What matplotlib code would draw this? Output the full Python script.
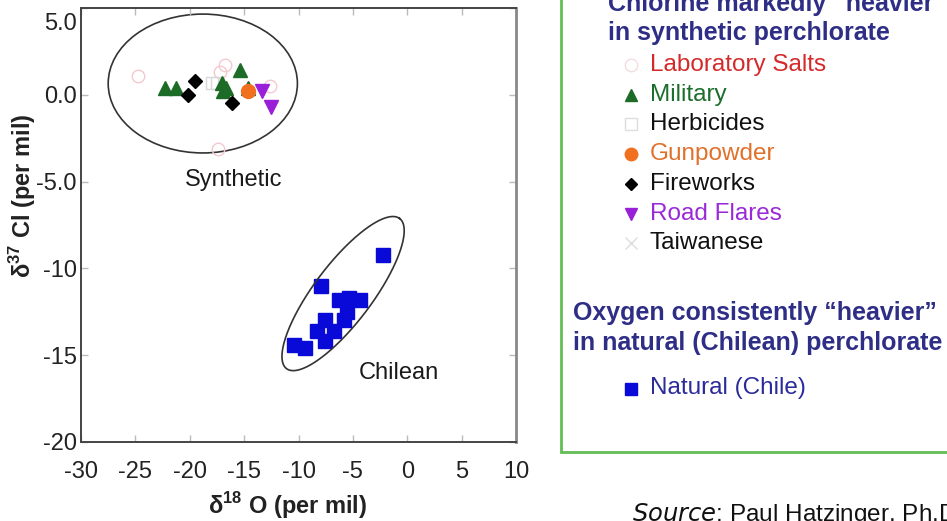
import numpy as np
import matplotlib
matplotlib.use("Agg")
import matplotlib.pyplot as plt
from matplotlib.patches import Ellipse, Rectangle
from matplotlib.transforms import ScaledTranslation

plt.rcParams["font.family"] = ["Liberation Sans", "DejaVu Sans"]
plt.rcParams["mathtext.fontset"] = "custom"
plt.rcParams["mathtext.rm"] = "Liberation Sans"
plt.rcParams["mathtext.bf"] = "Liberation Sans:bold"

# isotope data: delta-18O (x) and delta-37Cl (y), per mil
lab_salts_x = [-24.8, -16.8, -17.2, -12.6, -17.4]
lab_salts_y = [1.1, 1.7, 1.3, 0.5, -3.1]
military_x = [-22.3, -21.3, -17.0, -16.7, -16.9, -15.4, -14.6]
military_y = [0.4, 0.4, 0.7, 0.4, 0.2, 1.4, 0.4]
herbicides_x = [-18.0, -17.5]
herbicides_y = [0.7, 0.7]
gunpowder_x = [-14.6]
gunpowder_y = [0.2]
fireworks_x = [-19.5, -20.2, -16.1]
fireworks_y = [0.8, 0.0, -0.5]
road_flares_x = [-13.4, -12.5]
road_flares_y = [0.2, -0.7]
taiwanese_x = []
taiwanese_y = []
chile_x = [-2.2, -7.9, -6.3, -5.4, -4.3, -5.5, -5.8, -7.6, -8.3, -6.7, -7.6, -10.4, -9.4]
chile_y = [-9.2, -11.0, -11.8, -11.7, -11.8, -12.5, -13.0, -13.0, -13.6, -13.6, -14.2, -14.4, -14.6]

x_ticks = [-30, -25, -20, -15, -10, -5, 0, 5, 10]
x_tick_labels = ["-30", "-25", "-20", "-15", "-10", "-5", "0", "5", "10"]
y_ticks = [-20, -15, -10, -5, 0, 5]
y_tick_labels = ["-20", "-15", "-10", "-5.0", "0.0", "5.0"]

W, H = 947, 521
fig = plt.figure(figsize=(W / 100, H / 100), dpi=100)
ax = fig.add_axes([81 / W, 1 - 442 / H, 435 / W, 434 / H])
ax.set_xlim(-30, 10)
ax.set_ylim(-20, 5)

# series styles
series = [
    (lab_salts_x, lab_salts_y, dict(marker="o", ms=9, mfc="none", mec="#f4c8cf", mew=1.0)),
    (herbicides_x, herbicides_y, dict(marker="s", ms=9, mfc="none", mec="#d9d9d9", mew=1.0)),
    (taiwanese_x, taiwanese_y, dict(marker="x", ms=9, mec="#d9d9d9", mew=1.0)),
    (military_x, military_y, dict(marker="^", ms=10, mfc="#1c6b26", mec="#1c6b26")),
    (fireworks_x, fireworks_y, dict(marker="D", ms=7, mfc="black", mec="black")),
    (gunpowder_x, gunpowder_y, dict(marker="o", ms=10, mfc="#f07020", mec="#f07020")),
    (road_flares_x, road_flares_y, dict(marker="v", ms=10, mfc="#9a1fd8", mec="#9a1fd8")),
    (chile_x, chile_y, dict(marker="s", ms=10, mfc="#0a0ad8", mec="#0a0ad8")),
]
for xs, ys, st in series:
    ax.plot(xs, ys, ls="none", **st)

# grouping ellipses
ax.add_patch(Ellipse((-18.8, 0.65), 17.4, 8.0, fill=False, ec="#333333", lw=1.2))

# tilted ellipse defined in screen space so its shape is independent of the data aspect
fig.canvas.draw()
cx, cy = ax.transData.transform((-5.9, -11.45))
t = np.linspace(0, 2 * np.pi, 300)
a, b, th = 94, 29, np.deg2rad(53)
px = cx + a * np.cos(t) * np.cos(th) - b * np.sin(t) * np.sin(th)
py = cy + a * np.cos(t) * np.sin(th) + b * np.sin(t) * np.cos(th)
ex, ey = ax.transData.inverted().transform(np.column_stack([px, py])).T
ax.plot(ex, ey, color="#333333", lw=1.2)

ax.text(-16.0, -4.9, "Synthetic", fontsize=17, ha="center", va="center", color="#1a1a1a")
ax.text(-0.8, -16.0, "Chilean", fontsize=17, ha="center", va="center", color="#1a1a1a")

ax.set_xticks(x_ticks)
ax.set_xticklabels(x_tick_labels)
ax.set_yticks(y_ticks)
ax.set_yticklabels(y_tick_labels)
ax.tick_params(direction="in", length=5, width=1, color="#bbbbbb",
               labelsize=17, labelcolor="#222222", top=True, right=True)
ax.tick_params(axis="x", pad=14)
ax.tick_params(axis="y", pad=3)
for s in ax.spines.values():
    s.set_color("#444444")
    s.set_linewidth(1.4)
ax.spines["right"].set_color("#888888")
ax.spines["right"].set_linewidth(2)

# top label sits a little below its tick
for lbl in ax.get_yticklabels():
    if lbl.get_text() == "5.0":
        lbl.set_transform(lbl.get_transform() + ScaledTranslation(0, -10 / 72, fig.dpi_scale_trans))

ax.set_xlabel(r"δ$^{\mathbf{18}}$ O (per mil)", fontsize=17, fontweight="bold", color="#222222")
ax.xaxis.set_label_coords(0.474, -0.11)
ax.set_ylabel(r"δ$^{\mathbf{37}}$ Cl (per mil)", fontsize=17, fontweight="bold", color="#222222")
ax.yaxis.set_label_coords(-0.098, 0.567)

# key panel on the right, laid out in pixel coordinates
ov = fig.add_axes([0, 0, 1, 1], facecolor="none")
ov.set_xlim(0, W)
ov.set_ylim(H, 0)
ov.axis("off")
ov.add_patch(Rectangle((561, -20), 420, 472, fill=False, ec="#62bd55", lw=2, clip_on=False))

navy = "#2e2e86"
ov.text(608, 4, "Chlorine markedly \u201cheavier\u201d", fontsize=18, fontweight="bold", color=navy, va="center")
ov.text(608, 33, "in synthetic perchlorate", fontsize=18, fontweight="bold", color=navy, va="center")

entries = [
    ("Laboratory Salts", "#d42a2a", dict(marker="o", ms=9, mfc="none", mec="#f4dde1", mew=1.0)),
    ("Military", "#1c6e2c", dict(marker="^", ms=9, mfc="#1c6b26", mec="#1c6b26")),
    ("Herbicides", "#111111", dict(marker="s", ms=9, mfc="none", mec="#dddddd", mew=1.0)),
    ("Gunpowder", "#e0702a", dict(marker="o", ms=9, mfc="#f07020", mec="#f07020")),
    ("Fireworks", "#111111", dict(marker="D", ms=6, mfc="black", mec="black")),
    ("Road Flares", "#9a2ad8", dict(marker="v", ms=9, mfc="#9a1fd8", mec="#9a1fd8")),
    ("Taiwanese", "#111111", dict(marker="x", ms=8, mec="#dddddd", mew=1.0)),
]
for i, (name, col, st) in enumerate(entries):
    yy = 65 + i * 29.7
    ov.plot([631], [yy], ls="none", **st)
    ov.text(650, yy, name, fontsize=17.5, color=col, va="center")

ov.text(573, 313, "Oxygen consistently \u201cheavier\u201d", fontsize=18, fontweight="bold", color=navy, va="center")
ov.text(573, 343, "in natural (Chilean) perchlorate", fontsize=18, fontweight="bold", color=navy, va="center")
ov.plot([631], [389], ls="none", marker="s", ms=9, mfc="#0a0ad8", mec="#0a0ad8")
ov.text(650, 388, "Natural (Chile)", fontsize=17.5, color="#2b2b9a", va="center")

ov.text(632, 514, r"$\it{Source}$: Paul Hatzinger, Ph.D.", fontsize=17.5, color="#111111", va="center")

fig.savefig("out.png", dpi=100)
